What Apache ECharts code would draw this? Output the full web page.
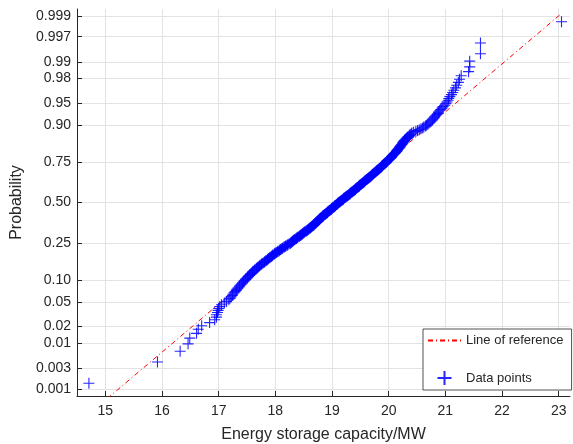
<!DOCTYPE html>
<html><head><meta charset="utf-8">
<script src="https://cdn.jsdelivr.net/npm/echarts@6/dist/echarts.min.js"></script>
<style>html,body{margin:0;padding:0;background:#fff}#c{width:573px;height:444px}</style>
</head><body><div id="c"></div>
<script>
const xTicks = [15, 16, 17, 18, 19, 20, 21, 22, 23];
const probTicks = [0.001, 0.003, 0.01, 0.02, 0.05, 0.10, 0.25, 0.50, 0.75, 0.90, 0.95, 0.98, 0.99, 0.997, 0.999];
const probLabels = ['0.001', '0.003', '0.01', '0.02', '0.05', '0.10', '0.25', '0.50', '0.75', '0.90', '0.95', '0.98', '0.99', '0.997', '0.999'];
// sorted energy storage capacity samples (MW)
const capacity = [
14.71, 15.92, 16.32, 16.46, 16.49, 16.61, 16.64, 16.70, 16.84, 16.93,
16.96, 16.96, 16.98, 16.99, 17.00, 17.02, 17.05, 17.10, 17.14, 17.18,
17.20, 17.22, 17.24, 17.25, 17.27,
17.29, 17.31, 17.32, 17.34, 17.36,
17.37, 17.39, 17.41, 17.42, 17.44, 17.45, 17.47,
17.48, 17.50, 17.51, 17.53, 17.54, 17.56, 17.57, 17.59, 17.60,
17.61, 17.63, 17.64, 17.66, 17.67, 17.69, 17.70, 17.72, 17.73,
17.75, 17.76, 17.78, 17.80, 17.81, 17.83, 17.84, 17.86, 17.87,
17.88, 17.90, 17.91, 17.93, 17.94, 17.95, 17.96, 17.98, 17.99,
18.00, 18.02, 18.04, 18.05, 18.07, 18.08, 18.09, 18.11, 18.12,
18.13, 18.15, 18.16, 18.18, 18.19, 18.21, 18.22, 18.24, 18.26, 18.27,
18.28, 18.29, 18.30, 18.31, 18.32, 18.33, 18.34, 18.36, 18.37, 18.38, 18.39, 18.40, 18.42, 18.43, 18.44, 18.45, 18.46, 18.47,
18.48, 18.49, 18.50, 18.51, 18.52, 18.54, 18.55, 18.56, 18.57, 18.58, 18.59, 18.60, 18.61, 18.62, 18.63, 18.64, 18.65, 18.66,
18.67, 18.68, 18.68, 18.69, 18.70, 18.71, 18.72, 18.72, 18.73, 18.74, 18.75, 18.76, 18.76, 18.77, 18.78, 18.79, 18.79, 18.80,
18.81, 18.82, 18.83, 18.84, 18.84, 18.85, 18.86, 18.87, 18.88, 18.89, 18.90, 18.91, 18.92, 18.92, 18.93, 18.94, 18.95, 18.96, 18.97,
18.98, 18.99, 18.99, 19.00, 19.01, 19.02, 19.03, 19.04, 19.05, 19.05, 19.06, 19.07, 19.08, 19.09, 19.10, 19.10, 19.11, 19.12,
19.13, 19.14, 19.15, 19.16, 19.17, 19.18, 19.19, 19.20, 19.20, 19.21, 19.22, 19.23, 19.24, 19.25, 19.26, 19.27, 19.28, 19.29,
19.30, 19.31, 19.32, 19.32, 19.33, 19.34, 19.35, 19.36, 19.37, 19.38, 19.39, 19.40, 19.41, 19.41, 19.42, 19.43, 19.44, 19.45,
19.46, 19.47, 19.48, 19.48, 19.49, 19.50, 19.51, 19.52, 19.53, 19.54, 19.55, 19.56, 19.57, 19.57, 19.58, 19.59, 19.60, 19.61,
19.62, 19.63, 19.64, 19.65, 19.66, 19.67, 19.68, 19.69, 19.70, 19.71, 19.71, 19.72, 19.73, 19.74, 19.75, 19.76, 19.77, 19.78, 19.79,
19.80, 19.81, 19.82, 19.83, 19.84, 19.85, 19.86, 19.87, 19.88, 19.88, 19.89, 19.90, 19.91, 19.92, 19.93, 19.94, 19.95, 19.96,
19.97, 19.98, 19.99, 20.00, 20.01, 20.02, 20.03, 20.04, 20.05, 20.05, 20.06, 20.07, 20.08, 20.09, 20.10, 20.11, 20.12, 20.13,
20.14, 20.15, 20.15, 20.16, 20.17, 20.18, 20.19, 20.20, 20.20, 20.21, 20.22, 20.23, 20.24, 20.25, 20.25, 20.26, 20.27, 20.28,
20.29, 20.30, 20.32, 20.33, 20.34, 20.36, 20.37, 20.38, 20.40, 20.41,
20.44, 20.48, 20.51, 20.54, 20.57, 20.60, 20.62, 20.65, 20.67,
20.69, 20.71, 20.73, 20.75, 20.77, 20.78, 20.80, 20.81, 20.83,
20.85, 20.87, 20.88, 20.90, 20.92,
20.94, 20.96, 20.99, 21.01,
21.03, 21.05, 21.06,
21.08, 21.11, 21.13,
21.15, 21.18, 21.20,
21.23, 21.25,
21.28, 21.41, 21.43, 21.43, 21.62, 21.62, 23.05
];

function norminv(p) {
  const a = [-3.969683028665376e+01, 2.209460984245205e+02, -2.759285104469687e+02, 1.383577518672690e+02, -3.066479806614716e+01, 2.506628277459239e+00];
  const b = [-5.447609879822406e+01, 1.615858368580409e+02, -1.556989798598866e+02, 6.680131188771972e+01, -1.328068155288572e+01];
  const c = [-7.784894002430293e-03, -3.223964580411365e-01, -2.400758277161838e+00, -2.549732539343734e+00, 4.374664141464968e+00, 2.938163982698783e+00];
  const d = [7.784695709041462e-03, 3.224671290700398e-01, 2.445134137142996e+00, 3.754408661907416e+00];
  const pl = 0.02425, ph = 1 - pl;
  let q, r;
  if (p < pl) {
    q = Math.sqrt(-2 * Math.log(p));
    return (((((c[0]*q+c[1])*q+c[2])*q+c[3])*q+c[4])*q+c[5]) / ((((d[0]*q+d[1])*q+d[2])*q+d[3])*q+1);
  }
  if (p <= ph) {
    q = p - 0.5; r = q * q;
    return (((((a[0]*r+a[1])*r+a[2])*r+a[3])*r+a[4])*r+a[5])*q / (((((b[0]*r+b[1])*r+b[2])*r+b[3])*r+b[4])*r+1);
  }
  q = Math.sqrt(-2 * Math.log(1 - p));
  return -(((((c[0]*q+c[1])*q+c[2])*q+c[3])*q+c[4])*q+c[5]) / ((((d[0]*q+d[1])*q+d[2])*q+d[3])*q+1);
}
function prctile(s, pct) {
  const n = s.length, pos = n * pct / 100 + 0.5;
  if (pos < 1) return s[0];
  if (pos >= n) return s[n - 1];
  const lo = Math.floor(pos), f = pos - lo;
  return s[lo - 1] + f * (s[lo] - s[lo - 1]);
}

const n = capacity.length;
const points = capacity.map((x, i) => [x, norminv((i + 0.5) / n)]);
const q1 = prctile(capacity, 25), q3 = prctile(capacity, 75);
const z1 = norminv(0.25), z3 = norminv(0.75);
const slope = (z3 - z1) / (q3 - q1), cx = (q1 + q3) / 2, cz = (z1 + z3) / 2;
const xmin = capacity[0], xmax = capacity[n - 1];
const refLine = [[xmin, cz + slope * (xmin - cx)], [xmax, cz + slope * (xmax - cx)]];
const yTickVals = probTicks.map(norminv);

const FONT = '"Liberation Sans", Arial, Helvetica, sans-serif';
const TXT = '#262626';
const GRID = '#e3e3e3';
const plusPath = 'path://M0,5L10,5M5,0L5,10';

const chart = echarts.init(document.getElementById('c'), null, { renderer: 'canvas' });
chart.setOption({
  animation: false,
  backgroundColor: '#fff',
  grid: { left: 77, right: 3, top: 9, bottom: 48, containLabel: false, outerBoundsMode: 'none' },
  xAxis: {
    type: 'value', min: 14.5, max: 23.2,
    name: 'Energy storage capacity/MW', nameLocation: 'middle', nameGap: 31,
    nameTextStyle: { fontSize: 16, color: TXT, fontFamily: FONT },
    axisLine: { show: true, onZero: false, lineStyle: { color: TXT, width: 1 } },
    axisTick: { show: true, inside: true, length: 5, customValues: xTicks, lineStyle: { color: TXT } },
    axisLabel: { show: true, customValues: xTicks, margin: 8, fontSize: 14, color: TXT, fontFamily: FONT },
    splitLine: { show: true, lineStyle: { color: GRID, width: 1 } }
  },
  yAxis: {
    type: 'value', min: -3.206, max: 3.206,
    name: 'Probability', nameLocation: 'middle', nameGap: 39,
    nameTextStyle: { fontSize: 16, color: TXT, fontFamily: FONT },
    axisLine: { show: true, onZero: false, lineStyle: { color: TXT, width: 1 } },
    axisTick: { show: true, inside: true, length: 5, customValues: yTickVals, lineStyle: { color: TXT } },
    axisLabel: {
      show: true, customValues: yTickVals, margin: 6, fontSize: 14, color: TXT, fontFamily: FONT,
      formatter: function (v) {
        let best = 0, bd = 1e9;
        yTickVals.forEach((t, k) => { const dd = Math.abs(t - v); if (dd < bd) { bd = dd; best = k; } });
        return probLabels[best];
      }
    },
    splitLine: { show: true, lineStyle: { color: GRID, width: 1 } }
  },
  legend: {
    orient: 'vertical', left: 423, top: 329,
    padding: [5, 8, 4, 4], itemGap: 23, itemWidth: 33, itemHeight: 14,
    backgroundColor: '#fff', borderColor: TXT, borderWidth: 0.8, borderRadius: 0,
    textStyle: { fontSize: 13, color: TXT, fontFamily: FONT },
    data: [
      { name: 'Line of reference', itemStyle: { opacity: 0 } },
      { name: 'Data points' }
    ]
  },
  series: [
    {
      name: 'Line of reference', type: 'line', data: refLine, showSymbol: false, symbol: 'circle',
      clip: true, z: 2,
      itemStyle: { color: '#ff0000' },
      lineStyle: { color: '#ff0000', width: 1, type: [5, 3, 1, 3] }
    },
    {
      name: 'Data points', type: 'scatter', data: points, symbol: plusPath, symbolSize: 11,
      z: 3,
      itemStyle: { color: '#0000ff', borderColor: '#0000ff', borderWidth: 1.1, opacity: 0.85 }
    }
  ]
});
</script>
</body></html>
